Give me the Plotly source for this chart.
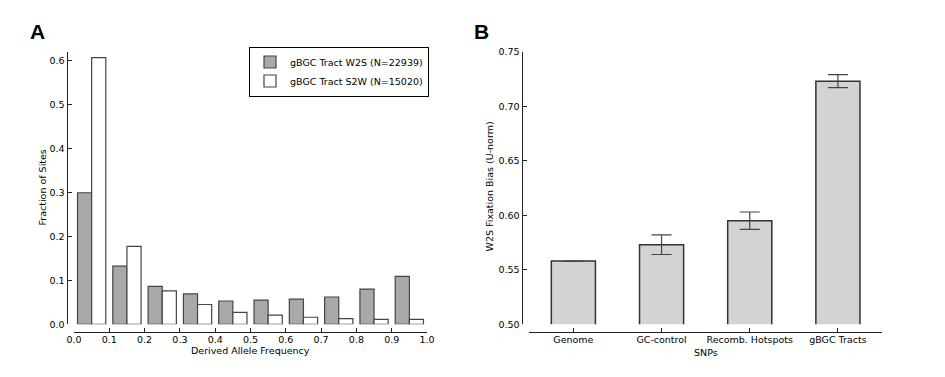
import plotly.graph_objects as go

W, H = 945, 377
PAD = 8  # default body margin of the html page

# ----------------
# PANEL A DATA: derived allele frequency spectrum (10 bins)
# ----------------
bin_left = [0.0, 0.1, 0.2, 0.3, 0.4, 0.5, 0.6, 0.7, 0.8, 0.9]
frac_w2s = [0.299, 0.132, 0.086, 0.069, 0.053, 0.055, 0.057, 0.062, 0.080, 0.109]
frac_s2w = [0.606, 0.177, 0.076, 0.045, 0.027, 0.021, 0.016, 0.013, 0.011, 0.011]
name_w2s = "gBGC Tract W2S (N=22939)"
name_s2w = "gBGC Tract S2W (N=15020)"
freq_ticks = [0.0, 0.1, 0.2, 0.3, 0.4, 0.5, 0.6, 0.7, 0.8, 0.9, 1.0]
frac_ticks = [0.0, 0.1, 0.2, 0.3, 0.4, 0.5, 0.6]

# ----------------
# PANEL B DATA: W2S fixation bias per SNP set
# ----------------
snp_sets = ["Genome", "GC-control", "Recomb. Hotspots", "gBGC Tracts"]
bias = [0.558, 0.573, 0.595, 0.723]
bias_err = [0.0, 0.009, 0.008, 0.006]
bias_ticks = [0.50, 0.55, 0.60, 0.65, 0.70, 0.75]

FW, FH = W - 2 * PAD, H - 2 * PAD


# page pixel -> paper helpers
def px(x):
    return (x - PAD) / FW


def py(y):
    return 1 - (y - PAD) / FH


FONT = "DejaVu Sans"
FS = 9.5
AXC = "#222222"

fig = go.Figure()

fig.add_trace(go.Bar(
    x=bin_left, y=frac_w2s, name=name_w2s,
    offset=0.01, width=0.04,
    marker=dict(color="#a9a9a9", line=dict(color="#444444", width=1.2)),
    xaxis="x", yaxis="y"
))
fig.add_trace(go.Bar(
    x=bin_left, y=frac_s2w, name=name_s2w,
    offset=0.05, width=0.04,
    marker=dict(color="white", line=dict(color="#444444", width=1.2)),
    xaxis="x", yaxis="y"
))

fig.add_trace(go.Bar(
    x=snp_sets, y=bias, width=0.5, showlegend=False,
    marker=dict(color="#d3d3d3", line=dict(color="#333333", width=1.5)),
    error_y=dict(type="data", array=bias_err, color="#444444", thickness=1.2, width=10),
    xaxis="x2", yaxis="y2"
))

axis_common = dict(
    showline=True, linecolor=AXC, linewidth=1,
    ticks="inside", ticklen=4, tickcolor=AXC, tickwidth=1,
    showgrid=False, zeroline=False, anchor="free", automargin=False,
    tickfont=dict(family=FONT, size=FS, color="black"),
)

fig.update_layout(
    width=FW, height=FH,
    margin=dict(l=0, r=0, t=0, b=0),
    template="none",
    paper_bgcolor="white", plot_bgcolor="white",
    barmode="overlay",
    font=dict(family=FONT, size=FS, color="black"),
    xaxis=dict(domain=[px(74), px(427)], range=[0, 1], position=py(331.5),
               tickvals=freq_ticks, tickformat=".1f", ticklabelstandoff=-1, **axis_common),
    yaxis=dict(domain=[py(324.3), py(51.5)], range=[0, 0.62], position=px(66.5),
               tickvals=frac_ticks, tickformat=".1f", **axis_common),
    xaxis2=dict(domain=[px(529.3), px(882)], range=[-0.5, 3.5], position=py(331.5),
                type="category", ticklabelstandoff=-1, **axis_common),
    yaxis2=dict(domain=[py(324.3), py(51.7)], range=[0.5, 0.75], position=px(521.5),
                tickvals=bias_ticks, tickformat=".2f", **axis_common),
    legend=dict(x=px(339), y=py(71.5), xanchor="center", yanchor="middle",
                bordercolor="black", borderwidth=1, bgcolor="white",
                itemwidth=30,
                font=dict(family=FONT, size=FS, color="black")),
    showlegend=True,
)

annos = [
    dict(text="<b>A</b>", x=px(28), y=py(31), xanchor="left",
         font=dict(family="Liberation Sans", size=21, color="black")),
    dict(text="<b>B</b>", x=px(472), y=py(31), xanchor="left",
         font=dict(family="Liberation Sans", size=21, color="black")),
    dict(text="Fraction of Sites", x=px(41.5), y=py(188), textangle=-90),
    dict(text="Derived Allele Frequency", x=px(250.5), y=py(350.7)),
    dict(text="W2S Fixation Bias (U-norm)", x=px(489.5), y=py(187), textangle=-90),
    dict(text="SNPs", x=px(706), y=py(352)),
]
for a in annos:
    fig.add_annotation(xref="paper", yref="paper", showarrow=False,
                       xanchor=a.pop("xanchor", "center"), yanchor="middle",
                       font=a.pop("font", dict(family=FONT, size=FS, color="black")), **a)

fig.write_html("out.html")
